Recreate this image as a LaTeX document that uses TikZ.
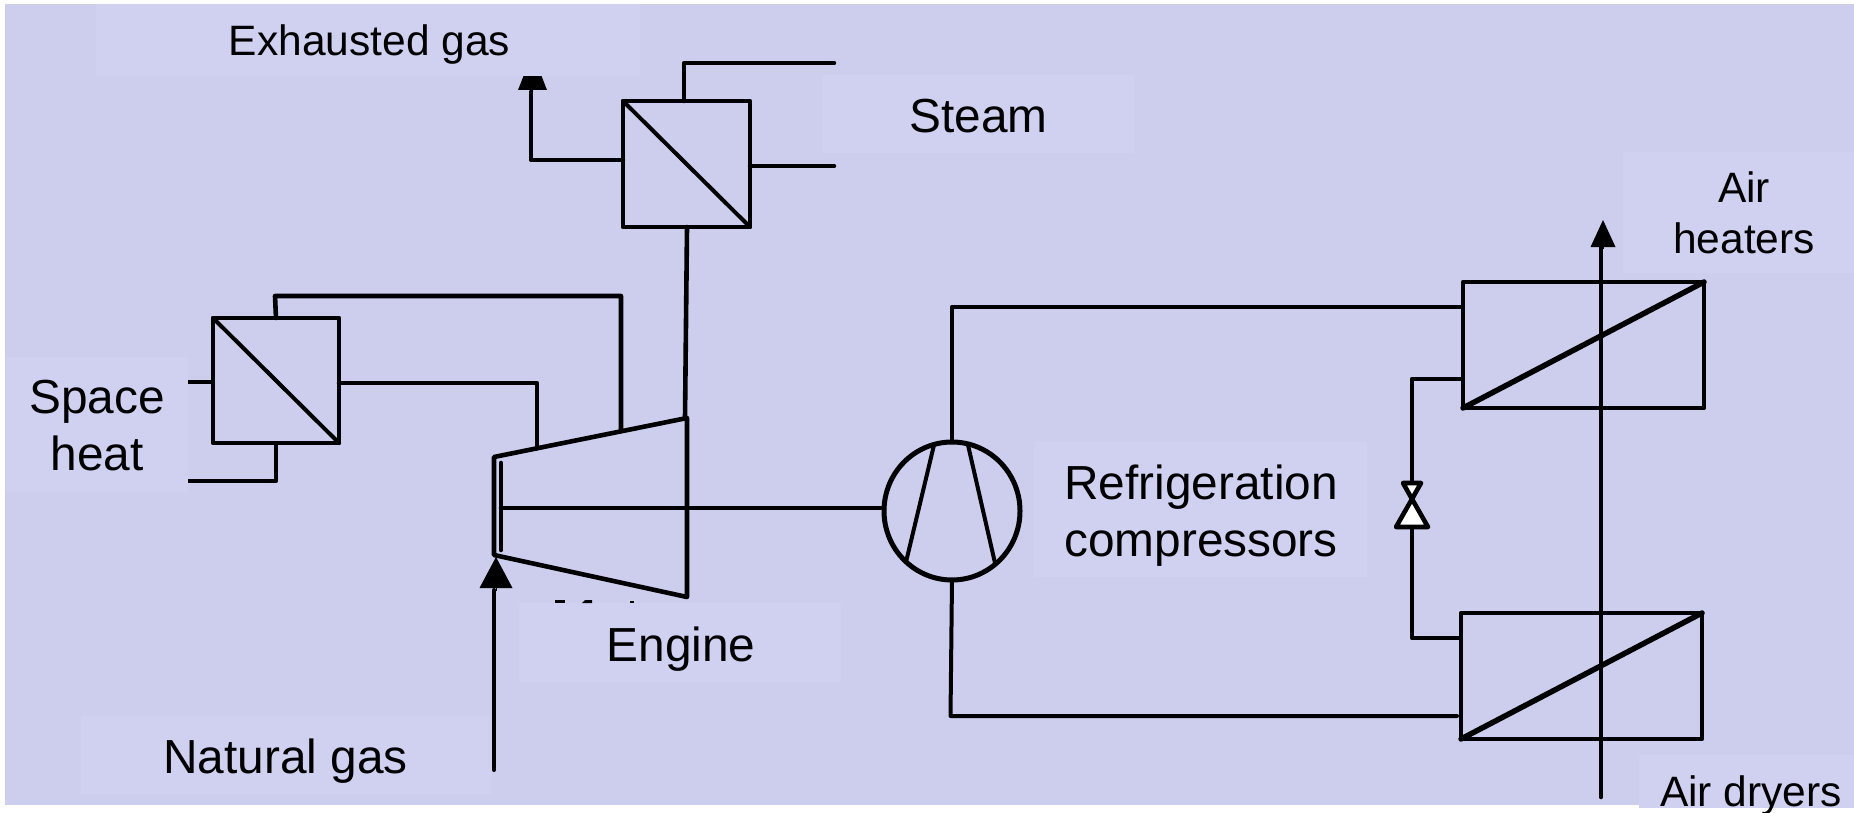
\documentclass[tikz,border=0pt]{standalone}
\usepackage{fontspec}
\setmainfont{Liberation Sans}
\usetikzlibrary{arrows.meta,shapes.geometric}
\definecolor{bgc}{HTML}{CDCEEE}
\definecolor{patchc}{HTML}{D0D1F0}
\tikzset{
  pipe/.style={line width=4.6pt,line join=round,line cap=round},
  thinpipe/.style={line width=4pt,line join=round,line cap=round},
  hx/.style={draw,line width=4.6pt,rectangle,inner sep=0pt,outer sep=0pt,line join=round},
  patchbox/.style={fill=patchc,draw=none,rectangle,inner sep=0pt,outer sep=0pt},
  lbl/.style={font=\fontsize{47.8}{57}\selectfont,inner sep=0pt,outer sep=0pt,align=center,text=black},
  lblsmall/.style={font=\fontsize{42.5}{51}\selectfont,inner sep=0pt,outer sep=0pt,align=center,text=black},
}
\begin{document}
\begin{tikzpicture}[x=1pt,y=-1pt]
\useasboundingbox (0,0) rectangle (1854,813);
\fill[bgc] (5,4) rectangle (1854,805);
% exchangers
\node[hx,minimum width=126pt,minimum height=125pt] (hxspace) at (276,380.5) {};
\node[hx,minimum width=127pt,minimum height=126pt] (hxsteam) at (686.5,164) {};
\node[hx,minimum width=241pt,minimum height=126pt] (hxup) at (1583.5,345) {};
\node[hx,minimum width=241pt,minimum height=126pt] (hxdown) at (1581.5,676) {};
\draw[thinpipe] (hxspace.north west) -- (hxspace.south east);
\draw[thinpipe] (hxsteam.north west) -- (hxsteam.south east);
\draw[pipe,line width=5.5pt] (hxup.south west) -- (hxup.north east);
\draw[pipe,line width=5.5pt] (hxdown.south west) -- (hxdown.north east);
% engine
\coordinate (engTL) at (494,457);
\coordinate (engTR) at (687,418);
\coordinate (engBR) at (687,597);
\coordinate (engBL) at (494,555);
\draw[pipe] (engTL) -- (engTR) -- (engBR) -- (engBL) -- cycle;
\coordinate (barT) at (501,463);
\coordinate (barM) at (501,508);
\coordinate (barB) at (501,550);
\draw[pipe] (barT) -- (barB);
% compressor
\node[draw,ellipse,line width=5pt,inner sep=0pt,outer sep=0pt,minimum width=136pt,minimum height=138pt] (comp) at (952,511) {};
\coordinate (cA) at (934,445);
\coordinate (cB) at (968,445);
\coordinate (cC) at (906,562);
\coordinate (cD) at (995,563);
\draw[thinpipe] (cC) -- (cA);
\draw[thinpipe] (cD) -- (cB);
\coordinate (shaftEnd) at (884,508);
\draw[pipe] (barM) -- (shaftEnd);
% natural gas
\coordinate (gasIn) at (494,770);
\coordinate (gasEnd) at (494,590);
\coordinate (gasBase) at (496,590);
\coordinate (gasTip) at (496,557);
\draw[thinpipe] (gasIn) -- (gasEnd);
\draw[line width=0pt,-{Triangle[width=33pt,length=31pt]}] (gasBase) -- (gasTip);
% space heat connectors
\coordinate (a1) at (275,296);
\coordinate (a2) at (621,296);
\coordinate (a3) at (621,431);
\draw[pipe] (hxspace.north) -- (a1) -- (a2) -- (a3);
\coordinate (b0) at (339,383);
\coordinate (b1) at (537,383);
\coordinate (b2) at (537,448);
\draw[pipe] (b0) -- (b1) -- (b2);
\coordinate (c0) at (213,382);
\coordinate (c1) at (188,382);
\draw[pipe,line cap=butt] (c0) -- (c1);
\coordinate (d1) at (276,481);
\coordinate (d2) at (188,481);
\draw[pipe,line cap=butt] (hxspace.south) -- (d1) -- (d2);
% steam connectors
\coordinate (e0) at (684,101);
\coordinate (e1) at (684,63);
\coordinate (e2) at (834,63);
\draw[pipe] (e0) -- (e1) -- (e2);
\coordinate (f0) at (750,166);
\coordinate (f1) at (834,166);
\draw[pipe] (f0) -- (f1);
\coordinate (g1) at (687,227);
\coordinate (g2) at (685,418);
\draw[pipe] (g1) -- (g2);
\coordinate (h0) at (623,160);
\coordinate (h1) at (531,160);
\coordinate (h2) at (531,92);
\coordinate (hBase) at (532.5,92);
\coordinate (hTip) at (532.5,53);
\draw[pipe] (h0) -- (h1) -- (h2);
\draw[line width=0pt,-{Triangle[width=29pt,length=37pt]}] (hBase) -- (hTip);
% refrigerant loop
\coordinate (i1) at (952,307);
\coordinate (i2) at (1460,307);
\draw[pipe] (comp.north) -- (i1) -- (i2);
\coordinate (j1) at (950.5,716);
\coordinate (j2) at (1457,716);
\draw[thinpipe] (comp.south) -- (j1) -- (j2);
\coordinate (k0) at (1460,379);
\coordinate (k1) at (1412,379);
\coordinate (k2) at (1412,483);
\draw[pipe] (k0) -- (k1) -- (k2);
\coordinate (l0) at (1412,527);
\coordinate (l1) at (1412,638);
\coordinate (l2) at (1460,638);
\draw[pipe] (l0) -- (l1) -- (l2);
% valve
\coordinate (vApex) at (1412,499);
\draw[line width=4.6pt,fill=white,line join=round] (vApex) -- (1396,527) -- (1428,527) -- cycle;
\draw[line width=4.6pt,fill=white,line join=round] (vApex) -- (1403,483) -- (1421,483) -- cycle;
% air line
\coordinate (airIn) at (1601,797);
\coordinate (airJoin) at (1601,248);
\coordinate (airBase) at (1603,248);
\coordinate (airOut) at (1603,220);
\draw[pipe] (airIn) -- (airJoin);
\draw[line width=0pt,-{Triangle[width=25pt,length=27pt]}] (airBase) -- (airOut);
% label patches
\node[patchbox,minimum width=544pt,minimum height=72pt] (pExh) at (368,40) {};
\node[patchbox,minimum width=312pt,minimum height=78pt] (pSteam) at (978,114) {};
\node[patchbox,minimum width=231pt,minimum height=121pt] (pAir) at (1738.5,212.5) {};
\node[patchbox,minimum width=182pt,minimum height=135pt] (pSpace) at (97,424.5) {};
\node[patchbox,minimum width=333pt,minimum height=135pt] (pRef) at (1200.5,509.5) {};
\node[patchbox,minimum width=322pt,minimum height=79pt] (pEng) at (680,642.5) {};
\node[patchbox,minimum width=410pt,minimum height=78pt] (pGas) at (286,755) {};
\node[patchbox,minimum width=215pt,minimum height=53pt] (pDry) at (1746.5,781.5) {};
% clipped remains above the Engine patch
\fill (555,600) rectangle (564.5,603);
\fill (582,603) -- (585,600) -- (592,600) -- (592,603) -- cycle;
\fill (630,603) rectangle (634,601);
% labels
\node[lblsmall,anchor=base] (tExh) at (369.5,56) {Exhausted gas};
\node[lbl,anchor=base] (tSteam) at (978.5,133) {Steam};
\node[lblsmall] (tAir) at (1744,213) {Air\\heaters};
\node[lbl] (tSpace) at (97,426) {Space\\heat};
\node[lbl] (tRef) at (1201,515.5) {Refrigeration\\compressors};
\node[lbl,anchor=base] (tEng) at (681,661) {Engine};
\node[lbl,anchor=base] (tGas) at (285.5,773) {Natural gas};
\node[lblsmall,anchor=base] (tDry) at (1751,806) {Air dryers};
\end{tikzpicture}
\end{document}
